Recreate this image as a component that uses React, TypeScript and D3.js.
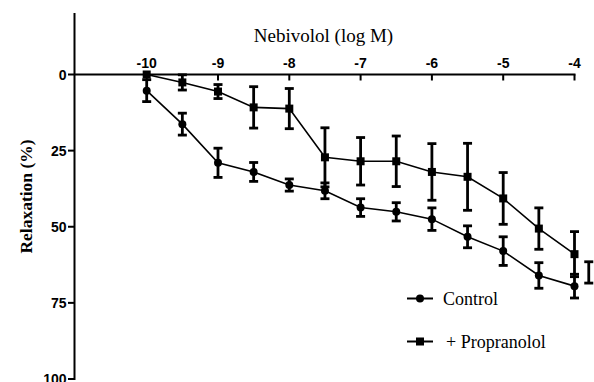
import React, { useEffect, useRef } from "react";
import * as d3 from "d3";

const logDose = [-10, -9.5, -9, -8.5, -8, -7.5, -7, -6.5, -6, -5.5, -5, -4.5, -4];
const controlMean = [5.3, 16.3, 29, 32, 36.3, 38.2, 43.7, 45.1, 47.5, 53.3, 58, 66, 69.5];
const controlSem = [3.6, 3.6, 4.8, 3.1, 2, 2.6, 2.9, 3, 3.7, 3.6, 4.7, 4.2, 3.9];
const propMean = [0, 2.6, 5.6, 10.8, 11.2, 27.2, 28.5, 28.5, 32, 33.6, 40.7, 50.6, 59];
const propSem = [0, 2.5, 2.3, 6.8, 6.6, 9.7, 7.8, 8.3, 9.3, 11, 8.5, 6.8, 7.4];
// lone error bar at the right edge of the original figure
const strayBar = { x: -3.8, mean: 65, sem: 3.5 };

const xTicks = [-10, -9, -8, -7, -6, -5, -4];
const yTicks = [0, 25, 50, 75, 100];

const App: React.FC = () => {
  const svgRef = useRef<SVGSVGElement>(null);

  useEffect(() => {
    if (!svgRef.current) return;
    const svg = d3.select(svgRef.current);
    svg.selectAll("*").remove();

    const x = d3.scaleLinear().domain([-10, -4]).range([146.7, 574.5]);
    const y = d3.scaleLinear().domain([0, 100]).range([74.5, 379]);
    const axisLeftX = 74.5;

    const sans = "Liberation Sans, Arial, sans-serif";
    const serif = "Liberation Serif, DejaVu Serif, serif";

    // y axis
    svg.append("line")
      .attr("x1", axisLeftX).attr("x2", axisLeftX)
      .attr("y1", 13).attr("y2", y(100) + 1)
      .attr("stroke", "#000").attr("stroke-width", 2);
    yTicks.forEach(t => {
      svg.append("line")
        .attr("x1", axisLeftX - 6.5).attr("x2", axisLeftX)
        .attr("y1", y(t)).attr("y2", y(t))
        .attr("stroke", "#000").attr("stroke-width", 2);
      svg.append("text")
        .attr("x", axisLeftX - 8).attr("y", y(t))
        .attr("dy", "0.36em")
        .attr("text-anchor", "end")
        .style("font-family", sans).style("font-weight", "bold").style("font-size", "14px")
        .text(t);
    });

    // x axis at top (y = 0)
    svg.append("line")
      .attr("x1", axisLeftX).attr("x2", x(-4) + 1)
      .attr("y1", y(0)).attr("y2", y(0))
      .attr("stroke", "#000").attr("stroke-width", 2);
    xTicks.forEach(t => {
      svg.append("line")
        .attr("x1", x(t)).attr("x2", x(t))
        .attr("y1", y(0)).attr("y2", y(0) + 6)
        .attr("stroke", "#000").attr("stroke-width", 2);
      svg.append("text")
        .attr("x", x(t)).attr("y", y(0) - 6.5)
        .attr("text-anchor", "middle")
        .style("font-family", sans).style("font-weight", "bold").style("font-size", "14px")
        .text(t);
    });

    svg.append("text")
      .attr("x", 323.5).attr("y", 42)
      .attr("text-anchor", "middle")
      .style("font-family", serif).style("font-size", "19px")
      .text("Nebivolol (log M)");

    svg.append("text")
      .attr("transform", `translate(32,196.5) rotate(-90)`)
      .attr("text-anchor", "middle")
      .style("font-family", serif).style("font-weight", "bold").style("font-size", "17.5px")
      .text("Relaxation (%)");

    const line = d3.line<[number, number]>().x(d => x(d[0])).y(d => y(d[1]));

    const drawErr = (cx: number, m: number, s: number) => {
      if (s <= 0) return;
      const g = svg.append("g").attr("stroke", "#000").attr("stroke-width", 2.8);
      g.append("line").attr("x1", x(cx)).attr("x2", x(cx)).attr("y1", y(m - s)).attr("y2", y(m + s));
      g.append("line").attr("x1", x(cx) - 4.5).attr("x2", x(cx) + 4.5).attr("y1", y(m - s)).attr("y2", y(m - s));
      g.append("line").attr("x1", x(cx) - 4.5).attr("x2", x(cx) + 4.5).attr("y1", y(m + s)).attr("y2", y(m + s));
    };

    const series = [
      { mean: propMean, sem: propSem, shape: "square" },
      { mean: controlMean, sem: controlSem, shape: "circle" },
    ];

    series.forEach(sr => {
      const pts = logDose.map((d, i) => [d, sr.mean[i]] as [number, number]);
      svg.append("path")
        .attr("d", line(pts) ?? "")
        .attr("fill", "none").attr("stroke", "#000").attr("stroke-width", 1.6);
      logDose.forEach((d, i) => drawErr(d, sr.mean[i], sr.sem[i]));
      logDose.forEach((d, i) => {
        if (sr.shape === "circle") {
          svg.append("circle").attr("cx", x(d)).attr("cy", y(sr.mean[i])).attr("r", 4).attr("fill", "#000");
        } else {
          svg.append("rect").attr("x", x(d) - 4).attr("y", y(sr.mean[i]) - 4)
            .attr("width", 8).attr("height", 8).attr("fill", "#000");
        }
      });
    });

    drawErr(strayBar.x, strayBar.mean, strayBar.sem);

    // legend
    const legend = [
      { label: "Control", shape: "circle", y: 298.5, tx: 443 },
      { label: "+ Propranolol", shape: "square", y: 341.5, tx: 446 },
    ];
    legend.forEach(l => {
      svg.append("line")
        .attr("x1", 407).attr("x2", 433)
        .attr("y1", l.y).attr("y2", l.y)
        .attr("stroke", "#000").attr("stroke-width", 2);
      if (l.shape === "circle") {
        svg.append("circle").attr("cx", 420).attr("cy", l.y).attr("r", 4).attr("fill", "#000");
      } else {
        svg.append("rect").attr("x", 416).attr("y", l.y - 4).attr("width", 8).attr("height", 8).attr("fill", "#000");
      }
      svg.append("text")
        .attr("x", l.tx).attr("y", l.y)
        .attr("dy", "0.35em")
        .style("font-family", serif).style("font-size", "18px")
        .text(l.label);
    });
  }, []);

  return (
    <svg
      ref={svgRef}
      width={594}
      height={382}
      style={{ position: "absolute", left: 0, top: 0, background: "#fff" }}
    />
  );
};

export default App;
